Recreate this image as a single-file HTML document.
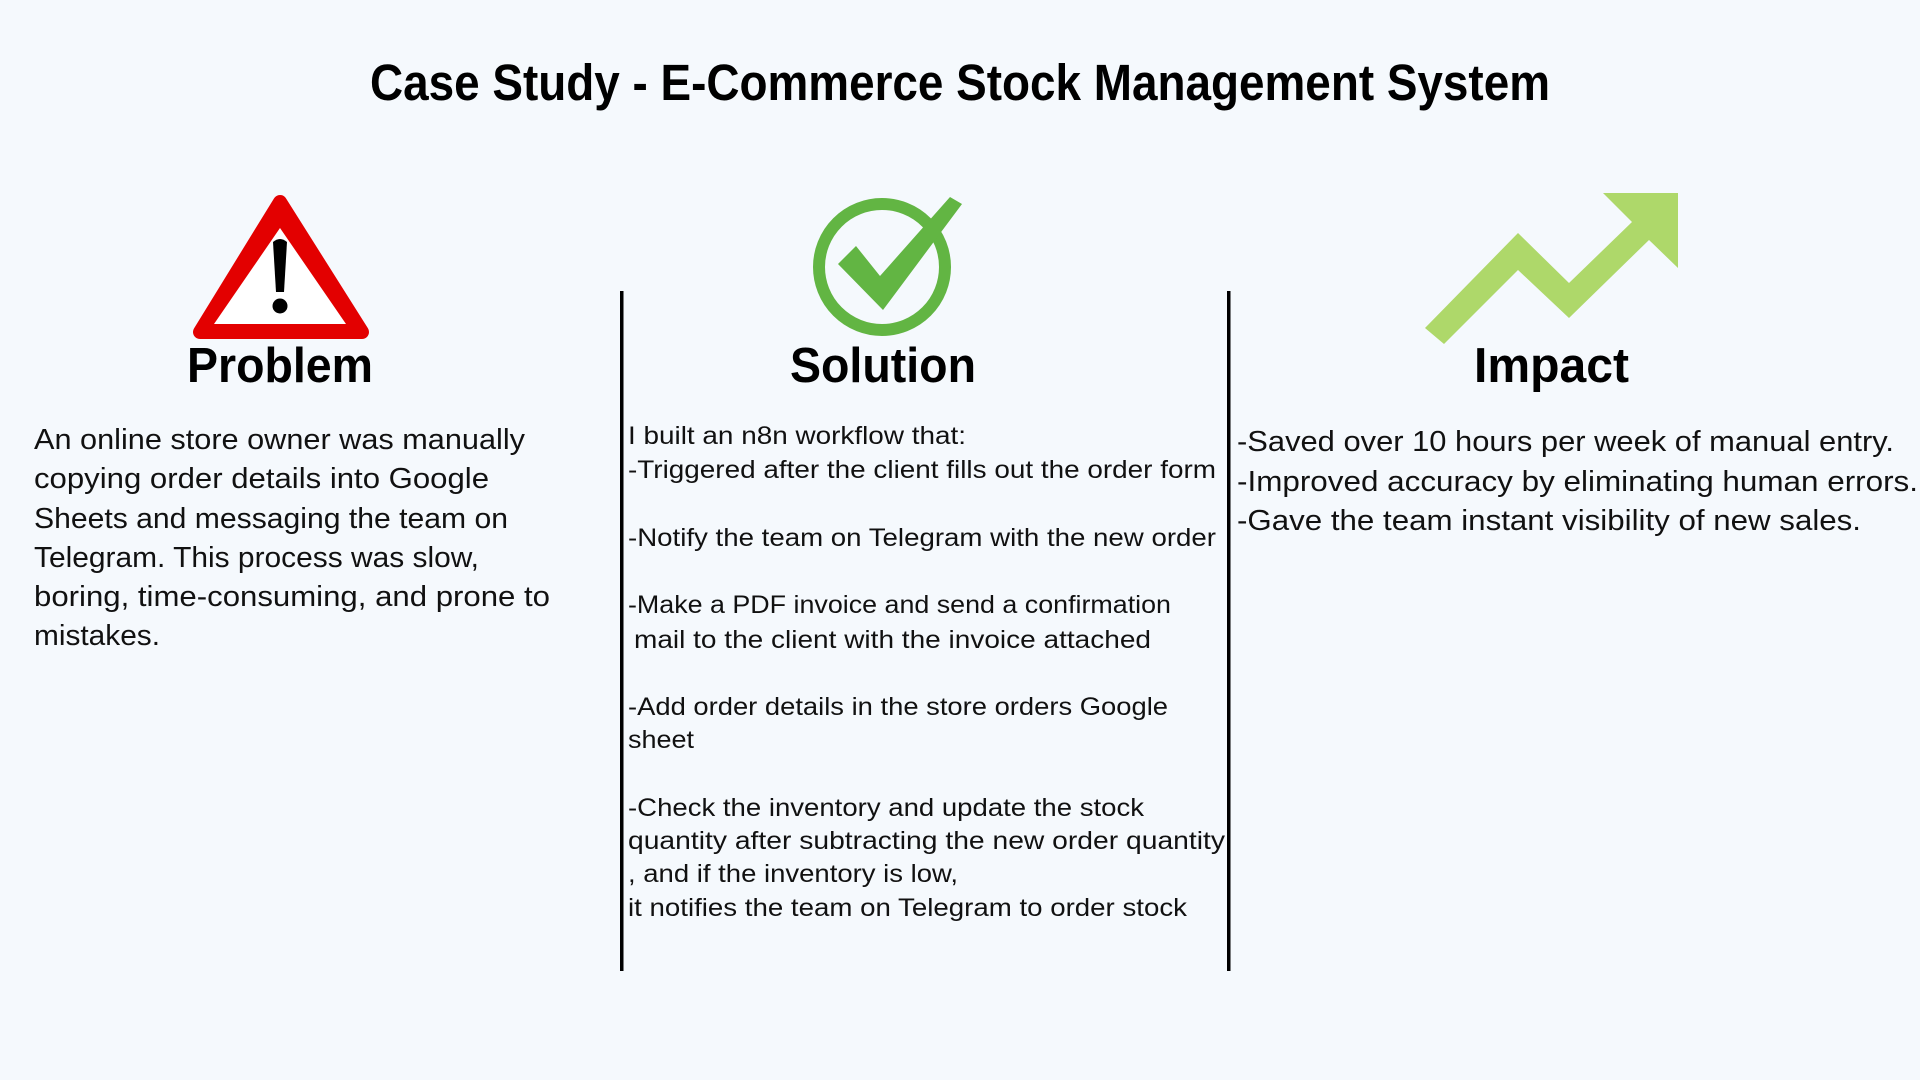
<!DOCTYPE html>
<html><head><meta charset="utf-8"><style>html,body{margin:0;padding:0;background:#f5f9fd;}svg{display:block}</style></head>
<body>
<svg width="1920" height="1080" viewBox="0 0 1920 1080" xmlns="http://www.w3.org/2000/svg" font-family="Liberation Sans, sans-serif">
<rect width="1920" height="1080" fill="#f5f9fd"/>
<text x="370" y="100" font-size="51" font-weight="bold" textLength="1180" lengthAdjust="spacingAndGlyphs" fill="#000">Case Study - E-Commerce Stock Management System</text>

<!-- warning -->
<polygon points="280,202 200,332 362,332" fill="#e30000" stroke="#e30000" stroke-width="14" stroke-linejoin="round"/>
<polygon points="280,228 214,324 346,324" fill="#fff"/>
<path d="M273,242 Q280,236 287,242 L284,292 L276,292 Z" fill="#000"/>
<circle cx="280" cy="306" r="7.5" fill="#000"/>
<text x="187" y="382" font-size="49" font-weight="bold" textLength="186" lengthAdjust="spacingAndGlyphs">Problem</text>

<!-- check -->
<circle cx="882" cy="267" r="63" fill="none" stroke="#62b543" stroke-width="12"/>
<polygon points="838,264 856,246 880,276 950,197 962,204 883,310" fill="#62b543"/>
<text x="790" y="382" font-size="49" font-weight="bold" textLength="186" lengthAdjust="spacingAndGlyphs">Solution</text>

<!-- arrow -->
<polygon points="1444,344 1518,270 1569,318 1649,240 1678,268 1678,193 1603,193 1632,222 1569,283 1518,233 1425,328" fill="#aed86a"/>
<text x="1474" y="382" font-size="49" font-weight="bold" textLength="155" lengthAdjust="spacingAndGlyphs">Impact</text>

<!-- dividers -->
<rect x="620" y="291" width="3.5" height="680" fill="#000"/>
<rect x="1227" y="291" width="3.5" height="680" fill="#000"/>

<g font-size="29" fill="#111">
<text x="34" y="449" textLength="491" lengthAdjust="spacingAndGlyphs">An online store owner was manually</text>
<text x="34" y="488" textLength="455" lengthAdjust="spacingAndGlyphs">copying order details into Google</text>
<text x="34" y="528" textLength="474" lengthAdjust="spacingAndGlyphs">Sheets and messaging the team on</text>
<text x="34" y="567" textLength="445" lengthAdjust="spacingAndGlyphs">Telegram. This process was slow,</text>
<text x="34" y="606" textLength="516" lengthAdjust="spacingAndGlyphs">boring, time-consuming, and prone to</text>
<text x="34" y="645" textLength="126" lengthAdjust="spacingAndGlyphs">mistakes.</text>
</g>

<g font-size="25" fill="#111">
<text x="628" y="444" textLength="338" lengthAdjust="spacingAndGlyphs">I built an n8n workflow that:</text>
<text x="628" y="478" textLength="588" lengthAdjust="spacingAndGlyphs">-Triggered after the client fills out the order form</text>
<text x="628" y="546" textLength="588" lengthAdjust="spacingAndGlyphs">-Notify the team on Telegram with the new order</text>
<text x="628" y="613" textLength="543" lengthAdjust="spacingAndGlyphs">-Make a PDF invoice and send a confirmation</text>
<text x="634" y="648" textLength="517" lengthAdjust="spacingAndGlyphs">mail to the client with the invoice attached</text>
<text x="628" y="715" textLength="540" lengthAdjust="spacingAndGlyphs">-Add order details in the store orders Google</text>
<text x="628" y="748" textLength="66" lengthAdjust="spacingAndGlyphs">sheet</text>
<text x="628" y="816" textLength="516" lengthAdjust="spacingAndGlyphs">-Check the inventory and update the stock</text>
<text x="628" y="849" textLength="597" lengthAdjust="spacingAndGlyphs">quantity after subtracting the new order quantity</text>
<text x="628" y="882" textLength="330" lengthAdjust="spacingAndGlyphs">, and if the inventory is low,</text>
<text x="628" y="916" textLength="559" lengthAdjust="spacingAndGlyphs">it notifies the team on Telegram to order stock</text>
</g>

<g font-size="29" fill="#111">
<text x="1237" y="451" textLength="657" lengthAdjust="spacingAndGlyphs">-Saved over 10 hours per week of manual entry.</text>
<text x="1237" y="491" textLength="681" lengthAdjust="spacingAndGlyphs">-Improved accuracy by eliminating human errors.</text>
<text x="1237" y="530" textLength="624" lengthAdjust="spacingAndGlyphs">-Gave the team instant visibility of new sales.</text>
</g>
</svg>
</body></html>
